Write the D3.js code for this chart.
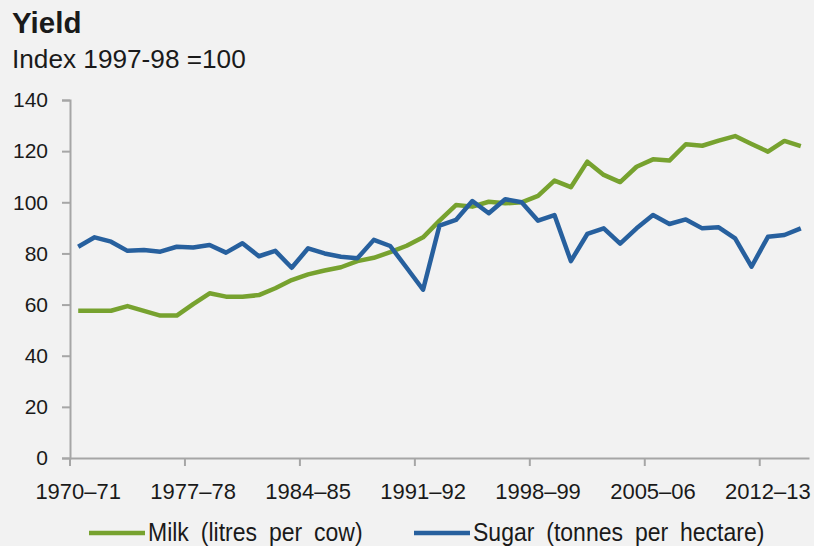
<!DOCTYPE html>
<html>
<head>
<meta charset="utf-8">
<script src="https://cdn.jsdelivr.net/npm/d3@7"></script>
<style>
  body { margin: 0; background: #f2f2f2; }
  svg { display: block; font-family: "Liberation Sans", Arial, sans-serif; }
</style>
</head>
<body>
<svg id="chart" width="814" height="546"></svg>
<script>
// seasons on the x axis
const categories = [
  "1970–71", "1971–72", "1972–73", "1973–74", "1974–75", "1975–76", "1976–77", "1977–78", "1978–79", "1979–80",
  "1980–81", "1981–82", "1982–83", "1983–84", "1984–85", "1985–86", "1986–87", "1987–88", "1988–89", "1989–90",
  "1990–91", "1991–92", "1992–93", "1993–94", "1994–95", "1995–96", "1996–97", "1997–98", "1998–99", "1999–00",
  "2000–01", "2001–02", "2002–03", "2003–04", "2004–05", "2005–06", "2006–07", "2007–08", "2008–09", "2009–10",
  "2010–11", "2011–12", "2012–13", "2013–14", "2014–15"
];

// index values, 1997-98 = 100
const milk = [
  57.6, 57.6, 57.6, 59.4, 57.5, 55.7, 55.7, 60.2, 64.4, 63.1,
  63.1, 63.7, 66.4, 69.6, 71.8, 73.3, 74.6, 77.0, 78.3, 80.5,
  83.0, 86.3, 92.8, 98.9, 98.3, 100.2, 99.6, 100, 102.5, 108.5,
  105.9, 115.9, 110.7, 107.9, 113.9, 116.8, 116.3, 122.7, 122.1, 124.1,
  125.9, 122.8, 119.8, 124.0, 122.0
];
const sugar = [
  82.6, 86.3, 84.6, 81.0, 81.3, 80.7, 82.6, 82.3, 83.3, 80.3,
  84.0, 78.9, 81.0, 74.4, 82.0, 80.0, 78.7, 78.1, 85.3, 82.9,
  74.4, 65.8, 90.9, 93.1, 100.5, 95.7, 101.2, 100, 92.8, 95.0,
  77.0, 87.6, 89.8, 83.8, 89.8, 95.0, 91.5, 93.3, 89.8, 90.2,
  85.9, 74.8, 86.5, 87.2, 89.8
];

const xTickLabels = ["1970–71", "1977–78", "1984–85", "1991–92", "1998–99", "2005–06", "2012–13"];
const yTicks = [0, 20, 40, 60, 80, 100, 120, 140];

const series = [
  { name: "Milk (litres per cow)", values: milk, color: "#77a22f" },
  { name: "Sugar (tonnes per hectare)", values: sugar, color: "#27609e" }
];

const svg = d3.select("#chart");
const axisColor = "#a6a6a6";
const textColor = "#1a1a1a";

const plot = { left: 70, right: 809, top: 100, bottom: 458 };

const x = d3.scaleBand()
  .domain(categories)
  .range([plot.left, plot.right])
  .paddingInner(0)
  .paddingOuter(0);

const y = d3.scaleLinear()
  .domain([0, 140])
  .range([plot.bottom, plot.top]);

// titles
svg.append("text")
  .attr("x", 12).attr("y", 33)
  .attr("font-size", 29.5).attr("font-weight", "bold")
  .attr("fill", textColor)
  .text("Yield");

svg.append("text")
  .attr("x", 12).attr("y", 68)
  .attr("font-size", 26.2)
  .attr("fill", textColor)
  .text("Index 1997-98 =100");

// y axis
const yAxis = svg.append("g")
  .attr("transform", `translate(${plot.left},0)`)
  .call(d3.axisLeft(y).tickValues(yTicks).tickSize(8).tickPadding(14));
yAxis.select(".domain").attr("stroke", axisColor).attr("stroke-width", 2);
yAxis.selectAll(".tick line").attr("stroke", axisColor).attr("stroke-width", 2);
yAxis.selectAll(".tick text")
  .attr("font-size", 21)
  .attr("fill", textColor)
  .attr("font-family", "Liberation Sans, Arial, sans-serif");

// x axis: labels centred on categories, tick marks on category edges
const xAxis = svg.append("g")
  .attr("transform", `translate(0,${plot.bottom})`)
  .call(d3.axisBottom(x).tickValues(xTickLabels).tickSize(0).tickPadding(25));
xAxis.select(".domain").attr("stroke", axisColor).attr("stroke-width", 2);
xAxis.selectAll(".tick text")
  .attr("font-size", 22)
  .attr("fill", textColor)
  .attr("font-family", "Liberation Sans, Arial, sans-serif");

svg.append("g")
  .selectAll("line")
  .data(xTickLabels)
  .join("line")
  .attr("x1", d => x(d)).attr("x2", d => x(d))
  .attr("y1", plot.bottom).attr("y2", plot.bottom + 8)
  .attr("stroke", axisColor)
  .attr("stroke-width", 2);

// lines
const line = d3.line()
  .x((d, i) => x(categories[i]) + x.bandwidth() / 2)
  .y(d => y(d));

svg.append("g")
  .selectAll("path")
  .data(series)
  .join("path")
  .attr("d", d => line(d.values))
  .attr("fill", "none")
  .attr("stroke", d => d.color)
  .attr("stroke-width", 4.5)
  .attr("stroke-linejoin", "round");

// legend (text is a bit condensed in the original)
const legendX = [89, 414];
const legend = svg.append("g");
const item = legend.selectAll("g")
  .data(series)
  .join("g")
  .attr("transform", (d, i) => `translate(${legendX[i]},533)`);
item.append("line")
  .attr("x1", 0).attr("x2", 56)
  .attr("stroke", d => d.color)
  .attr("stroke-width", 4.5);
item.append("text")
  .attr("transform", "translate(59,8) scale(0.92,1)")
  .attr("font-size", 25)
  .attr("word-spacing", 6)
  .attr("fill", textColor)
  .text(d => d.name);
</script>
</body>
</html>
